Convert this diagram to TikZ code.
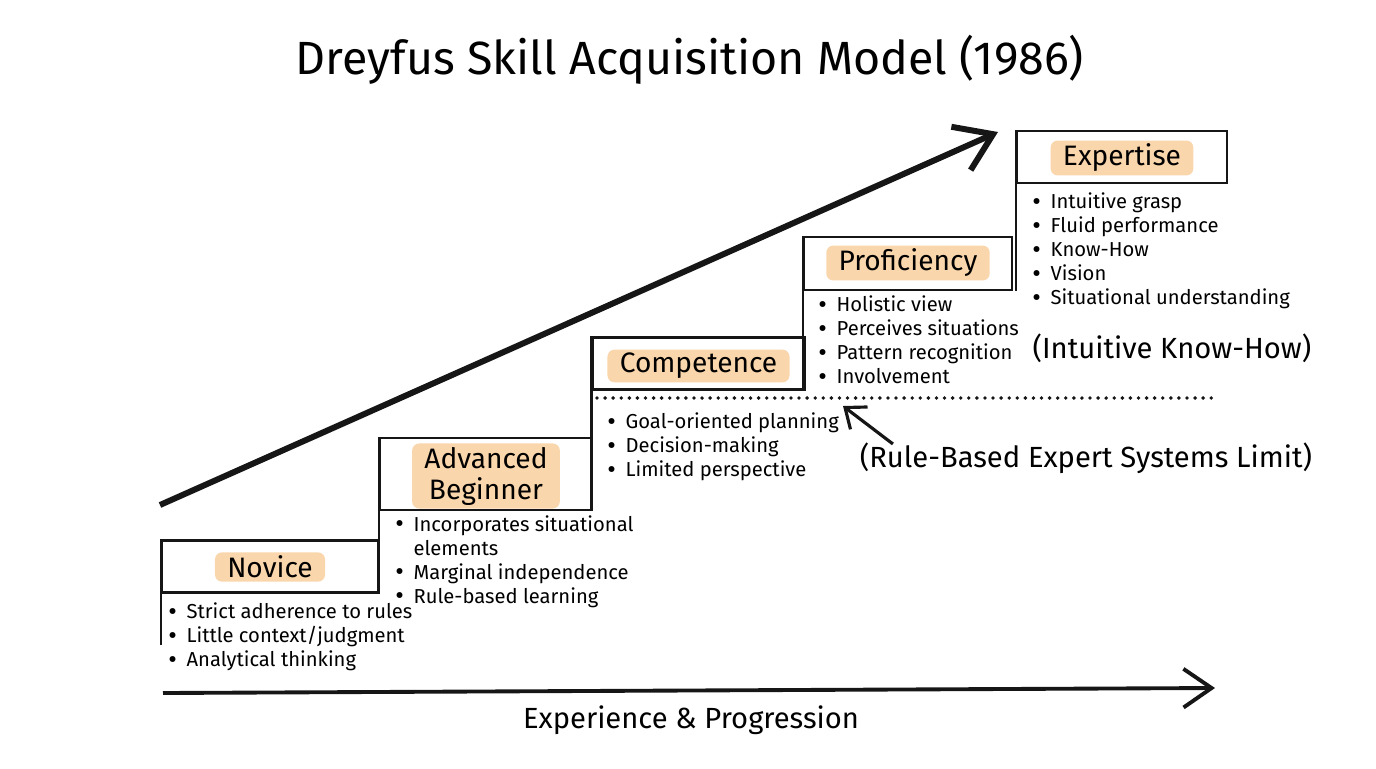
\documentclass[tikz,border=0pt]{standalone}
\usepackage{fontspec}
\setmainfont{Fira Sans}
\usepackage{xcolor}
\usepackage{tikz}
\usetikzlibrary{arrows.meta,positioning}
\definecolor{hilite}{RGB}{250,214,172}
\definecolor{ink}{RGB}{22,22,22}
\newcommand{\bul}{\makebox[10.4pt][l]{\raisebox{-0.9pt}{\fontsize{15}{13.6}\selectfont\textbullet}}}
\newcommand{\nobul}{\makebox[10.4pt][l]{}}

\begin{document}
\begin{tikzpicture}[x=0.02cm, y=-0.02cm,
  stage/.style={draw=ink, line width=1.3pt, fill=white, minimum width=42.4mm,
                minimum height=10.4mm, inner sep=0pt},
  tag/.style={fill=hilite, rounded corners=4pt, inner xsep=7pt, inner ysep=2pt,
              align=center, font=\fontsize{16}{17.6}\selectfont},
  items/.style={anchor=west, align=left, inner sep=0pt, font=\fontsize{11.5}{13.6}\selectfont},
  note/.style={font=\fontsize{16.6}{19}\selectfont, inner sep=0pt},
  riser/.style={draw=ink, line width=1.3pt},
  bigarr/.style={-{Straight Barb[length=20pt, width=27pt]}, line width=3.4pt, color=ink},
  axarr/.style={-{Straight Barb[length=16pt, width=22pt]}, line width=2.2pt, color=ink},
  ptr/.style={-{Straight Barb[length=10pt, width=16pt]}, line width=1.8pt, color=ink}
]
  \useasboundingbox (0,0) rectangle (1376,768);
  \node[font=\fontsize{26.5}{30}\selectfont] (title) at (690,60) {Dreyfus Skill Acquisition Model (1986)};

  % progression arrow
  \coordinate (up0) at (160,505);
  \coordinate (up1) at (998,132);
  \draw[bigarr] (up0) -- (up1);

  % the five stages
  \node[stage, minimum width=43.2mm] (novice) at (270,566.5) {};
  \node[stage, minimum height=14.4mm] (adv) at (486,474) {};
  \node[stage] (comp) at (698.5,363.5) {};
  \node[stage, minimum width=41.6mm, minimum height=10.6mm] (prof) at (908,263.5) {};
  \node[stage, minimum width=42mm] (exp) at (1122,157) {};

  \node[tag] (novice-t) at (270,567) {Novice};
  \node[tag] (adv-t) at (486,476) {Advanced\\Beginner};
  \node[tag] (comp-t) at (698.5,366) {Competence};
  \node[tag] (prof-t) at (908,263) {Proficiency};
  \node[tag] (exp-t) at (1122,158) {Expertise};

  % step risers
  \draw[riser] (novice.north west) -- ([yshift=-10.2mm]novice.south west);
  \draw[riser] (adv.north west) -- (adv.north west |- novice.south);
  \draw[riser] (comp.north west) -- (comp.north west |- adv.south);
  \draw[riser] (prof.north west) -- (prof.north west |- comp.south);
  \draw[riser] (exp.north west) -- (exp.north west |- prof.south);

  % bullet lists
  \node[items] (novice-l) at (168,637) {\bul Strict adherence to rules\\\bul Little context/judgment\\\bul Analytical thinking};
  \node[items] (adv-l) at (395,561.5) {\bul Incorporates situational\\\nobul elements\\\bul Marginal independence\\\bul Rule-based learning};
  \node[items] (comp-l) at (607,447) {\bul Goal-oriented planning\\\bul Decision-making\\\bul Limited perspective};
  \node[items] (prof-l) at (818,340.5) {\bul Holistic view\\\bul Perceives situations\\\bul Pattern recognition\\\bul Involvement};
  \node[items] (exp-l) at (1032,251) {\bul Intuitive grasp\\\bul Fluid performance\\\bul Know-How\\\bul Vision\\\bul Situational understanding};

  \node[note] (intuit) at (1172,348) {(Intuitive Know-How)};

  % limit of rule-based systems
  \coordinate (dl) at (597,398);
  \coordinate (dr) at (1215,398);
  \draw[ink, line width=2.2pt, line cap=round, dash pattern=on 0pt off 4.6pt] (dl) -- (dr);
  \node[note] (limit) at (1086,458) {(Rule-Based Expert Systems Limit)};
  \coordinate (lim-tip) at (843,406);
  \draw[ptr] ([xshift=19pt, yshift=-1pt]limit.north west) -- (lim-tip);

  % experience axis
  \coordinate (ax0) at (163,693);
  \coordinate (ax1) at (1215,688);
  \draw[axarr] (ax0) -- (ax1);
  \node[note] (axis-t) at (691,720) {Experience \& Progression};
\end{tikzpicture}
\end{document}
